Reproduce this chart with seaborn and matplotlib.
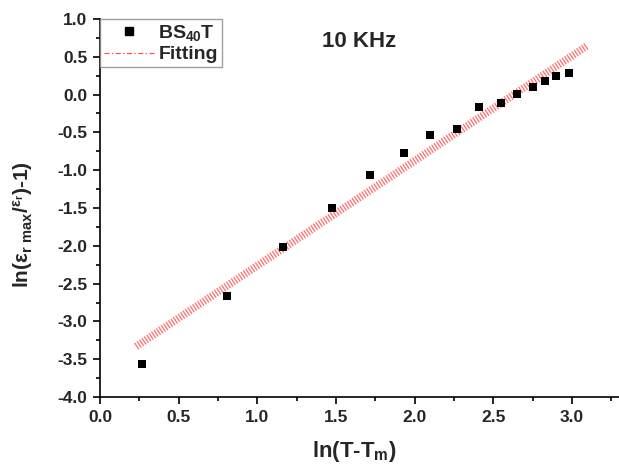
import numpy as np
import pandas as pd
import seaborn as sns
import matplotlib.pyplot as plt
from matplotlib.lines import Line2D
from matplotlib.ticker import MultipleLocator

# -----------------------------
# Data
# -----------------------------

ln_dT = [0.27, 0.81, 1.165, 1.477, 1.716, 1.93, 2.10, 2.27, 2.41,
         2.55, 2.65, 2.75, 2.83, 2.90, 2.98]
ln_eps = [-3.56, -2.67, -2.02, -1.50, -1.07, -0.77, -0.54, -0.46, -0.16,
          -0.11, 0.01, 0.10, 0.18, 0.24, 0.29]

fit_slope = 1.387
fit_intercept = -3.65
fit_range = [0.23, 3.10]

df = pd.DataFrame({"x": ln_dT, "y": ln_eps})
fit_x = np.array(fit_range)
fit_df = pd.DataFrame({"x": fit_x, "y": fit_slope * fit_x + fit_intercept})

# -----------------------------
# Style
# -----------------------------

sns.set_style("ticks")
plt.rcParams["font.family"] = ["Liberation Sans", "DejaVu Sans"]
plt.rcParams["font.weight"] = "bold"
plt.rcParams["mathtext.fontset"] = "custom"
plt.rcParams["mathtext.rm"] = "Liberation Sans:bold"
plt.rcParams["mathtext.it"] = "Liberation Sans:bold"
plt.rcParams["mathtext.bf"] = "Liberation Sans:bold"
plt.rcParams["mathtext.default"] = "bf"

fig = plt.figure(figsize=(6.19, 4.70), dpi=100)
ax = fig.add_axes([0.1616, 0.1553, 0.8384, 0.8043])

# -----------------------------
# Plot
# -----------------------------

ax.plot(fit_df["x"], fit_df["y"], color="#ff6a6a", lw=5.5,
        dashes=(0.16, 0.22), solid_capstyle="butt", zorder=2)
sns.scatterplot(data=df, x="x", y="y", marker="s", s=30, color="black",
                linewidth=0, ax=ax, zorder=3)

ax.set_xlim(0, 3.3)
ax.set_ylim(-4.0, 1.0)
ax.xaxis.set_major_locator(MultipleLocator(0.5))
ax.xaxis.set_minor_locator(MultipleLocator(0.25))
ax.yaxis.set_major_locator(MultipleLocator(0.5))
ax.yaxis.set_minor_locator(MultipleLocator(0.25))
ax.xaxis.set_major_formatter(plt.FormatStrFormatter("%.1f"))
ax.yaxis.set_major_formatter(plt.FormatStrFormatter("%.1f"))
ax.tick_params(which="major", direction="out", length=5, width=1.2,
               labelsize=12.5, color="black", pad=4)
ax.tick_params(which="minor", direction="out", length=3, width=1.2,
               color="black")
for lab in ax.get_xticklabels() + ax.get_yticklabels():
    lab.set_fontweight("bold")

sns.despine(ax=ax)
for side in ["left", "bottom"]:
    ax.spines[side].set_linewidth(1.2)
    ax.spines[side].set_color("black")

ax.set_xlabel("ln(T-T$_m$)", fontsize=16, fontweight="bold")
ax.xaxis.set_label_coords(0.49, -0.11)
ax.set_ylabel("ln(ε$_{r\\ max}$/$^{ε_r}$)-1)", fontsize=15,
              fontweight="bold")
ax.yaxis.set_label_coords(-0.125, 0.455)

ax.text(1.65, 0.70, "10 KHz", fontsize=16, fontweight="bold",
        ha="center", va="center")

handles = [
    Line2D([], [], marker="s", color="black", linestyle="none", markersize=6),
    Line2D([], [], color="#ff5050", lw=0.9, linestyle=(0, (4, 2, 1, 2))),
]
leg = ax.legend(handles, ["BS$_{40}$T", "Fitting"], loc="upper left",
                bbox_to_anchor=(0, 1), borderaxespad=0, fancybox=False,
                frameon=True, prop={"weight": "bold", "size": 14},
                handlelength=2.6, handletextpad=0.2, borderpad=0.2,
                labelspacing=0.15)
leg.get_frame().set_edgecolor("#888888")
leg.get_frame().set_linewidth(1.0)

fig.savefig("out.png", dpi=100)
